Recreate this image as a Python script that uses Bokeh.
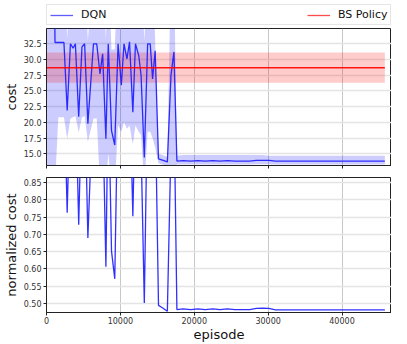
from bokeh.plotting import figure
from bokeh.layouts import column
from bokeh.models import (Legend, LegendItem, FixedTicker, NumeralTickFormatter, Range1d,
                          CustomJSTickFormatter)
from bokeh.embed import file_html
from bokeh.resources import INLINE

# ---------------- data ----------------
dqn_episode = [0, 600, 1100, 1150, 1600, 2360, 2800, 3240, 3600, 3910, 4360, 4800, 5160,
               5600, 6360, 6800, 7240, 7600, 8040, 8360, 8800, 9240, 9690, 10130, 10490,
               10890, 11240, 11690, 12040, 12490, 12800, 13240, 13690, 14040, 14360, 14710,
               15160, 15690, 16360, 16850, 17250, 17650, 18500, 19500, 20500, 21500, 22500,
               23500, 24500, 25500, 26500, 27500, 28400, 29200, 30100, 31000, 33000, 36000,
               39000, 42000, 45800]
dqn_cost = [40.0, 40.0, 40.0, 32.7, 32.7, 32.7, 21.9, 32.5, 31.8, 32.5, 20.9, 32.0, 32.5,
            19.8, 32.5, 32.5, 27.7, 30.9, 17.4, 32.5, 18.7, 16.4, 32.5, 25.9, 32.5,
            30.1, 32.8, 21.6, 32.5, 30.6, 27.5, 14.4, 32.5, 32.5, 26.9, 31.4,
            14.2, 14.0, 13.7, 27.5, 31.2, 13.85, 13.9, 13.85, 13.9, 13.85, 13.9,
            13.85, 13.9, 13.85, 13.85, 13.85, 13.95, 13.97, 13.95, 13.83, 13.83, 13.83,
            13.82, 13.82, 13.82]
dqn_upper = [45, 45, 45, 45, 45, 45, 33.3, 45, 45, 45, 45, 45, 45,
             33.0, 45, 45, 45, 45, 33.3, 45, 31.6, 31.6, 45, 45, 45,
             45, 45, 45, 45, 45, 45, 33.0, 45, 45, 45, 33.0,
             15.0, 14.8, 14.5, 45, 45, 14.7, 14.8, 14.8, 14.8, 14.8, 14.8,
             14.8, 14.8, 14.8, 14.8, 14.8, 14.8, 14.8, 14.7, 14.7, 14.7, 14.7,
             14.7, 14.7, 14.7]
dqn_lower = [10, 10, 10, 10, 20.8, 20.8, 17.4, 20.6, 20.8, 21.0, 18.4, 20.8, 21.0,
             16.9, 20.6, 20.6, 10, 10, 10, 15, 10, 10, 19.5, 18.5, 20.0,
             19.0, 19.5, 16.5, 19.5, 18.5, 18.0, 10, 18.5, 18.5, 17.5, 16.0,
             13.5, 13.3, 13.0, 10, 10, 13.3, 13.3, 13.3, 13.3, 13.3, 13.3,
             13.3, 13.3, 13.3, 13.3, 13.3, 13.35, 13.35, 13.35, 13.3, 13.3, 13.3,
             13.3, 13.3, 13.3]

bs_episode = [0, 45800]
bs_mean = 28.7
bs_low = 26.3
bs_high = 31.1

dqn_norm = [c / bs_mean for c in dqn_cost]

x_ticks = [0, 10000, 20000, 30000, 40000]
cost_ticks = [15.0, 17.5, 20.0, 22.5, 25.0, 27.5, 30.0, 32.5]
norm_ticks = [0.50, 0.55, 0.60, 0.65, 0.70, 0.75, 0.80, 0.85]

FONT = "DejaVu Sans"
BLUE = "#1a1aff"
RED = "#ff0000"

x_range = Range1d(0, 46700)


def style(p):
    p.outline_line_color = "#222222"
    p.outline_line_width = 1
    p.background_fill_color = "white"
    p.border_fill_color = "white"
    for ax in list(p.xaxis) + list(p.yaxis):
        ax.major_tick_out = 3
        ax.major_tick_in = 0
        ax.minor_tick_out = 0
        ax.minor_tick_in = 0
        ax.axis_line_color = "#222222"
        ax.major_tick_line_color = "#222222"
        ax.major_label_text_font = FONT
        ax.major_label_text_font_size = "8px"
        ax.major_label_text_color = "#333333"
        ax.major_label_standoff = 2
        ax.axis_label_text_font = FONT
        ax.axis_label_text_font_size = "13px"
        ax.axis_label_text_font_style = "normal"
        ax.axis_label_text_color = "#111111"
        ax.axis_label_standoff = 2
    p.xgrid.grid_line_color = "#c8c8c8"
    p.xgrid.grid_line_width = 1
    p.ygrid.grid_line_color = "#e4e4e4"
    p.ygrid.grid_line_width = 1.5
    p.xaxis.ticker = FixedTicker(ticks=x_ticks)


# ---------------- legend row (series drawn out of its view, used as legend glyphs) ----------------
p0 = figure(width=391, height=26, x_range=x_range, y_range=Range1d(0, 1),
            x_axis_type=None, y_axis_type=None, output_backend="svg",
            toolbar_location=None, min_border_left=41, min_border_right=0,
            min_border_top=0, min_border_bottom=0)
p0.outline_line_color = None
p0.grid.visible = False
lg_dqn = p0.line(dqn_episode, dqn_cost, line_color=BLUE, line_width=1.3, line_alpha=0.7)
lg_bs = p0.line(bs_episode, [bs_mean, bs_mean], line_color=RED, line_width=1.3, line_alpha=0.7)
legend = Legend(items=[LegendItem(label="DQN", renderers=[lg_dqn]),
                       LegendItem(label="BS Policy", renderers=[lg_bs])],
                orientation="horizontal", location=(0, 1), margin=0, padding=3,
                spacing=178, glyph_width=23, glyph_height=12, label_height=12,
                label_width=48, label_standoff=8, label_text_font=FONT,
                label_text_font_size="11px", label_text_color="#111111",
                border_line_color="#cccccc", border_line_width=1,
                background_fill_color="white", background_fill_alpha=1.0)
p0.add_layout(legend)

# ---------------- top panel ----------------
p1 = figure(width=391, height=151, x_range=x_range,
            y_range=Range1d(13.14, 34.93), output_backend="svg",
            toolbar_location=None, min_border_left=41, min_border_right=0,
            min_border_top=2, min_border_bottom=12)
style(p1)
p1.yaxis.ticker = FixedTicker(ticks=cost_ticks)
p1.yaxis.formatter = NumeralTickFormatter(format="0.0")
p1.yaxis.axis_label = "cost"
p1.xaxis.formatter = CustomJSTickFormatter(code="return ''")
p1.xaxis.major_label_standoff = 0

p1.varea(x=dqn_episode, y1=dqn_lower, y2=dqn_upper, fill_color="#0000ff", fill_alpha=0.2)
p1.varea(x=bs_episode, y1=[bs_low, bs_low], y2=[bs_high, bs_high], fill_color="#ff0000",
         fill_alpha=0.2)
p1.line(dqn_episode, dqn_cost, line_color=BLUE, line_width=1.3, line_alpha=0.9)
p1.line(bs_episode, [bs_mean, bs_mean], line_color=RED, line_width=1.5, line_alpha=0.9)

# ---------------- bottom panel ----------------
p2 = figure(width=391, height=167, x_range=x_range,
            y_range=Range1d(0.474, 0.865), output_backend="svg",
            toolbar_location=None, min_border_left=41, min_border_right=0,
            min_border_top=0, min_border_bottom=29)
style(p2)
p2.yaxis.ticker = FixedTicker(ticks=norm_ticks)
p2.yaxis.formatter = NumeralTickFormatter(format="0.00")
p2.yaxis.axis_label = "normalized cost"
p2.xaxis.axis_label = "episode"
p2.xaxis.axis_label_standoff = 0
p2.xaxis.major_label_standoff = 1
p2.line(dqn_episode, dqn_norm, line_color=BLUE, line_width=1.3, line_alpha=0.9)

layout = column(p0, p1, p2, spacing=0)

with open("out.html", "w") as f:
    f.write(file_html(layout, INLINE))
